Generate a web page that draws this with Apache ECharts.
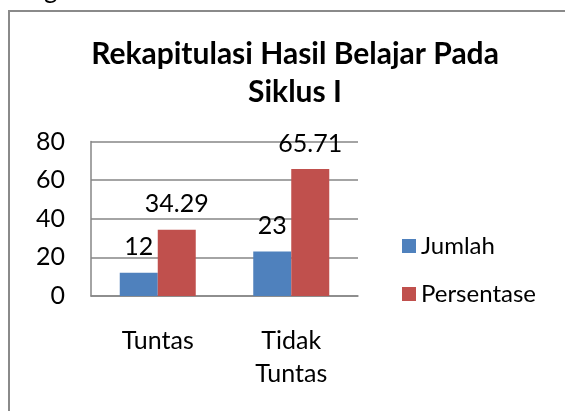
<!DOCTYPE html>
<html style="height: 100%">
<head>
<meta charset="utf-8">
</head>
<body style="height: 100%; margin: 0; background: #fff">
<div id="container" style="width: 565px; height: 411px"></div>
<script type="text/javascript" src="https://cdn.jsdelivr.net/npm/echarts@6/dist/echarts.min.js"></script>
<script type="text/javascript">
var categories = ['Tuntas', 'Tidak Tuntas'];
var jumlah = [12, 23];
var persentase = [34.29, 65.71];
var seriesNames = ['Jumlah', 'Persentase'];
var yTicks = { min: 0, max: 80, interval: 20 };

var font = 'Lato';
var chart = echarts.init(document.getElementById('container'));

var barLabel = {
    show: true,
    position: 'top',
    distance: 13,
    color: '#000',
    fontFamily: font,
    fontSize: 25
};

var option = {
    animation: false,
    backgroundColor: '#fff',
    title: {
        text: 'Rekapitulasi Hasil Belajar Pada\nSiklus I',
        left: 290,
        textAlign: 'center',
        top: 30,
        textStyle: {
            fontFamily: font,
            fontWeight: 'bold',
            fontSize: 30,
            lineHeight: 38,
            color: '#000'
        }
    },
    graphic: [
        {
            type: 'rect',
            shape: { x: 9, y: 11, width: 600, height: 450 },
            style: { fill: null, stroke: '#8a8a8a', lineWidth: 2 }
        },
        {
            type: 'text',
            left: 44,
            top: -23,
            style: { text: 'g', fontFamily: font, fontSize: 26, fill: '#000' }
        }
    ],
    legend: {
        orient: 'vertical',
        left: 397,
        top: 229,
        itemWidth: 14,
        itemHeight: 14,
        itemGap: 24,
        icon: 'rect',
        textStyle: { fontFamily: font, fontSize: 24, color: '#000', lineHeight: 24 },
        data: seriesNames
    },
    grid: { left: 91, right: 207, top: 141.5, bottom: 115 },
    xAxis: {
        type: 'category',
        data: categories,
        axisLine: { lineStyle: { color: '#868686', width: 1.5 } },
        axisTick: { show: false },
        axisLabel: {
            color: '#000',
            fontFamily: font,
            fontSize: 25,
            lineHeight: 33,
            margin: 28,
            interval: 0,
            formatter: function (v) { return v.replace(' ', '\n'); }
        }
    },
    yAxis: {
        type: 'value',
        min: yTicks.min,
        max: yTicks.max,
        interval: yTicks.interval,
        axisLine: { show: true, lineStyle: { color: '#868686', width: 1.5 } },
        axisTick: { show: false },
        splitLine: { lineStyle: { color: '#868686', width: 1.5 } },
        axisLabel: { color: '#000', fontFamily: font, fontSize: 25, margin: 26 }
    },
    series: [
        {
            name: seriesNames[0],
            type: 'bar',
            data: jumlah,
            barWidth: 38,
            barGap: '0%',
            itemStyle: { color: '#4F81BD' },
            label: barLabel
        },
        {
            name: seriesNames[1],
            type: 'bar',
            data: persentase,
            barWidth: 38,
            barGap: '0%',
            itemStyle: { color: '#C0504D' },
            label: barLabel
        }
    ]
};
chart.setOption(option);
</script>
</body>
</html>
